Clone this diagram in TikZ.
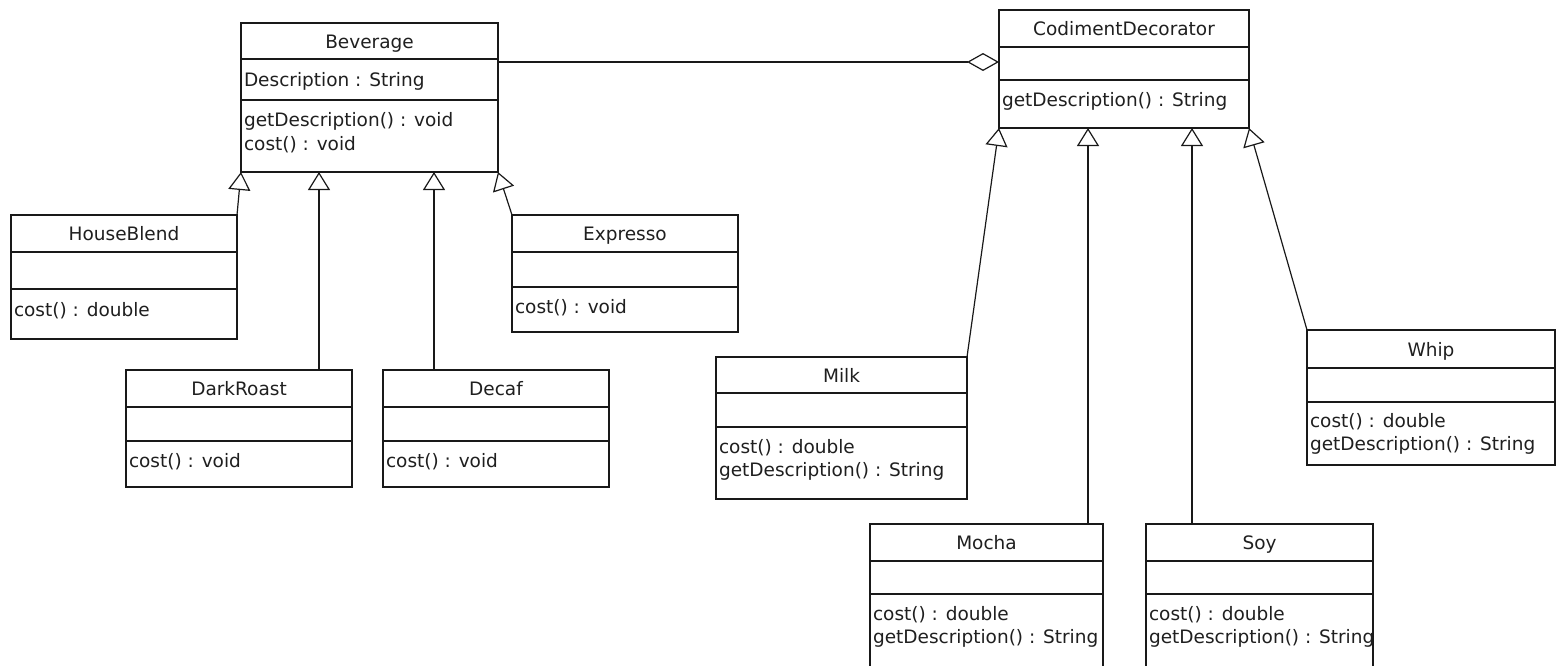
\documentclass[tikz,border=0pt]{standalone}
\usepackage{fontspec}
\setmainfont{DejaVu Sans}
\usetikzlibrary{arrows.meta,shadows}

\tikzset{
  clsbox/.style={draw=black!90, fill=white, line width=1.2pt, inner sep=0pt, outer sep=0pt,
    drop shadow={shadow xshift=1.3pt, shadow yshift=-1.3pt, opacity=0.3}},
  sep/.style={draw=black!90, line width=1.2pt},
  umltext/.style={inner sep=0pt, outer sep=0pt, text=black!88, font=\fontsize{18.5}{23}\selectfont},
  clsname/.style={umltext, anchor=base},
  member/.style={umltext, anchor=base west},
  generalize/.style={draw=black!90, line width=1.2pt, -{Triangle[open, length=18pt, width=22pt]}},
  aggregate/.style={draw=black!90, line width=1.2pt, -{Diamond[open, length=32pt, width=18pt]}},
}

% class box: name, left, top, right, first rule, second rule, bottom, class name
\newcommand{\umlbox}[8]{%
  \node[clsbox, anchor=north west, minimum width={#4-(#2)}, minimum height={#7-(#3)}] (#1) at (#2,#3) {};
  \draw[sep] (#2,#5) -- (#4,#5);
  \draw[sep] (#2,#6) -- (#4,#6);
  \node[clsname] (#1-title) at ({(#2+#4)/2},{(#3+#5)/2+7}) {#8};
}

\begin{document}
\begin{tikzpicture}[x=1pt, y=-1pt]
  \useasboundingbox (0,0) rectangle (1557,665);
  \clip (0,0) rectangle (1557,665);

  % component side
  \umlbox{bev}{241}{23}{498}{59}{100}{172}{Beverage}
  \node[member] (bev-a1) at (244,86.5) {Description : String};
  \node[member] (bev-m1) at (244,126) {getDescription() : void};
  \node[member] (bev-m2) at (244,150) {cost() : void};

  \umlbox{house}{11}{215}{237}{252}{289}{339}{HouseBlend}
  \node[member] (house-m1) at (14,316) {cost() : double};

  \umlbox{dark}{126}{370}{352}{407}{441}{487}{DarkRoast}
  \node[member] (dark-m1) at (129,467) {cost() : void};

  \umlbox{decaf}{383}{370}{609}{407}{441}{487}{Decaf}
  \node[member] (decaf-m1) at (386,467) {cost() : void};

  \umlbox{expr}{512}{215}{738}{252}{287}{332}{Expresso}
  \node[member] (expr-m1) at (515,313) {cost() : void};

  % decorator side
  \umlbox{cd}{999}{10}{1249}{47}{80}{128}{CodimentDecorator}
  \node[member] (cd-m1) at (1002,106) {getDescription() : String};

  \umlbox{milk}{716}{357}{967}{393}{427}{499}{Milk}
  \node[member] (milk-m1) at (719,453) {cost() : double};
  \node[member] (milk-m2) at (719,476) {getDescription() : String};

  \umlbox{mocha}{870}{524}{1103}{561}{594}{700}{Mocha}
  \node[member] (mocha-m1) at (873,620) {cost() : double};
  \node[member] (mocha-m2) at (873,643) {getDescription() : String};

  \umlbox{soy}{1146}{524}{1373}{561}{594}{700}{Soy}
  \node[member] (soy-m1) at (1149,620) {cost() : double};
  \node[member] (soy-m2) at (1149,643) {getDescription() : String};

  \umlbox{whip}{1307}{330}{1555}{368}{402}{465}{Whip}
  \node[member] (whip-m1) at (1310,427) {cost() : double};
  \node[member] (whip-m2) at (1310,450) {getDescription() : String};

  % attachment lines
  \coordinate (aggY) at (0,62);
  \coordinate (darkX) at (319,0);
  \coordinate (decafX) at (434,0);
  \coordinate (mochaX) at (1088,0);
  \coordinate (soyX) at (1192,0);

  % aggregation
  \draw[aggregate] (bev.east |- aggY) -- (cd.west |- aggY);

  % generalizations
  \draw[generalize] (house.north east) -- (bev.south west);
  \draw[generalize] (dark.north -| darkX) -- (bev.south -| darkX);
  \draw[generalize] (decaf.north -| decafX) -- (bev.south -| decafX);
  \draw[generalize] (expr.north west) -- (bev.south east);

  \draw[generalize] (milk.north east) -- (cd.south west);
  \draw[generalize] (mocha.north -| mochaX) -- (cd.south -| mochaX);
  \draw[generalize] (soy.north -| soyX) -- (cd.south -| soyX);
  \draw[generalize] (whip.north west) -- (cd.south east);
\end{tikzpicture}
\end{document}
